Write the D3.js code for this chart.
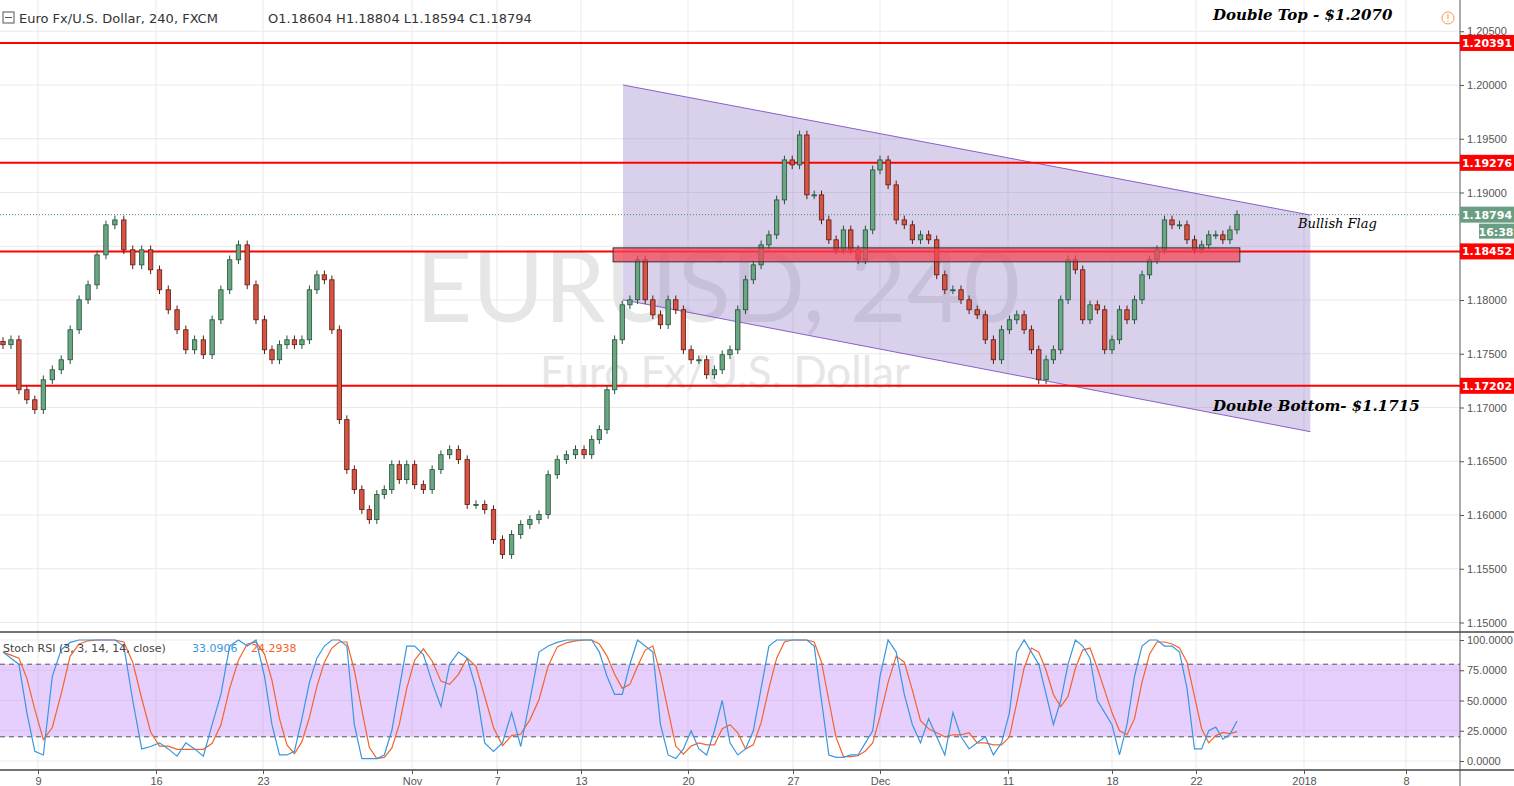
<!DOCTYPE html><html><head><meta charset="utf-8">
<script src="https://cdn.jsdelivr.net/npm/d3@7"></script>
<style>body{margin:0;background:#fff}svg{font-family:"DejaVu Sans",sans-serif}</style></head><body>
<svg id="c" width="1514" height="786"></svg>
<script>
const closes=[1.17584,1.1763,1.17165,1.17072,1.1698,1.17258,1.17351,1.17444,1.17723,1.18002,1.18141,1.1842,1.18699,1.18745,1.18467,1.18327,1.18467,1.18281,1.18095,1.17909,1.17723,1.17537,1.1763,1.17491,1.17816,1.18095,1.18374,1.18513,1.18141,1.17816,1.17537,1.17444,1.17584,1.1763,1.17584,1.1763,1.18095,1.18234,1.18188,1.17723,1.16887,1.16422,1.16236,1.1605,1.15957,1.1619,1.16236,1.16468,1.16329,1.16468,1.16282,1.16236,1.16422,1.16561,1.16608,1.16515,1.16097,1.16097,1.1605,1.15771,1.15632,1.15818,1.15911,1.15957,1.16004,1.16375,1.16515,1.16561,1.16608,1.16561,1.16701,1.16794,1.17165,1.1763,1.17955,1.18002,1.18374,1.18002,1.17862,1.1777,1.18002,1.17909,1.17537,1.17444,1.17444,1.17305,1.17351,1.17491,1.17537,1.17909,1.18188,1.18327,1.18513,1.18606,1.18931,1.19303,1.19257,1.19535,1.18978,1.18978,1.18745,1.1856,1.18467,1.18652,1.18467,1.18374,1.18652,1.1921,1.19303,1.19071,1.18745,1.18699,1.1856,1.18606,1.1856,1.18234,1.18095,1.18095,1.18002,1.17909,1.17862,1.1763,1.17444,1.17723,1.17816,1.17862,1.17723,1.17537,1.17258,1.17444,1.17537,1.18002,1.18374,1.18281,1.17816,1.17955,1.17909,1.17537,1.1763,1.17909,1.17816,1.18002,1.18234,1.18374,1.18467,1.18745,1.18699,1.18699,1.1856,1.18467,1.18513,1.18606,1.18606,1.1856,1.18652,1.18794];
const stochK=[90,85,80,40,8,5,70,92,98,100,100,100,100,100,95,50,10,12,15,10,4,15,10,4,30,55,95,100,95,100,70,30,5,5,8,35,65,85,95,100,100,95,30,2,2,2,5,25,60,95,95,88,65,45,80,90,85,60,15,8,15,40,12,50,90,95,98,100,100,100,100,90,70,55,55,80,100,95,90,30,5,2,10,25,10,5,25,50,15,5,10,25,60,95,100,100,100,100,100,95,50,5,3,3,5,5,15,25,70,100,90,55,30,15,35,20,5,40,20,10,15,20,5,15,40,90,100,90,80,55,30,50,80,100,95,85,50,40,30,5,30,70,95,100,100,95,95,90,60,10,10,25,28,18,22,33];
const xTickLabels=["9","16","23","Nov","7","13","20","27","Dec","11","18","22","2018","8"];
const xTickIdx=[4.4,17.6,29.8,49.7,59.4,68.6,82.6,96.1,108,123.8,138,149.2,164.5,178.9];
const priceTicks=[1.15,1.155,1.16,1.165,1.17,1.175,1.18,1.19,1.195,1.2,1.205];
const levels=[1.20391,1.19276,1.18452,1.17202];
const lastPrice=1.18794;
const channelTop=[[74.1,1.2],[165.4,1.1879]];
const channelBot=[[74.1,1.18002],[165.4,1.16775]];
const zone={i0:72.8,i1:155.4,p0:1.18485,p1:1.18355};
const stochTicks=[100,75,50,25,0];

const svg=d3.select("#c");
const W=1460;
// piecewise time scale: candle index -> pixel, anchored on the date ticks
const x=d3.scaleLinear().domain([0,...xTickIdx.slice(0,12),closes.length-1,...xTickIdx.slice(12)])
  .range([3,38,156,263,412,497,581,688,793,880,1008,1112,1196,1237,1304,1406]);
const y=d3.scaleLinear().domain([1.2,1.18]).range([85,300]);
const ys=d3.scaleLinear().domain([0,100]).range([761,640]);
const f5=d3.format(".5f");
const g=svg.append("g");
xTickIdx.forEach(i=>g.append("line").attr("x1",x(i)).attr("x2",x(i)).attr("y1",0).attr("y2",770).attr("stroke","#e9e9e9"));
[...priceTicks,1.185].forEach(p=>g.append("line").attr("x1",0).attr("x2",W).attr("y1",y(p)).attr("y2",y(p)).attr("stroke","#e9e9e9"));
stochTicks.forEach(v=>g.append("line").attr("x1",0).attr("x2",W).attr("y1",ys(v)).attr("y2",ys(v)).attr("stroke","#ececec"));
svg.append("text").attr("x",718).attr("y",322).attr("text-anchor","middle").attr("font-size",98).attr("fill","#e6e6e6").attr("font-family","Lato").text("EURUSD, 240");
svg.append("text").attr("x",725).attr("y",388).attr("text-anchor","middle").attr("font-size",44).attr("fill","#e6e6e6").attr("font-family","Lato").text("Euro Fx/U.S. Dollar");
const poly=[channelTop[0],channelTop[1],channelBot[1],channelBot[0]];
svg.append("polygon").attr("points",poly.map(d=>[x(d[0]),y(d[1])].join(",")).join(" ")).attr("fill","rgba(140,115,195,0.33)");
[channelTop,channelBot].forEach(c=>svg.append("line").attr("x1",x(c[0][0])).attr("y1",y(c[0][1])).attr("x2",x(c[1][0])).attr("y2",y(c[1][1])).attr("stroke","#8a5fc6").attr("stroke-width",1));
levels.forEach(p=>svg.append("line").attr("x1",0).attr("x2",W).attr("y1",y(p)).attr("y2",y(p)).attr("stroke","#f00").attr("stroke-width",2));
svg.append("line").attr("x1",0).attr("x2",W).attr("y1",y(lastPrice)).attr("y2",y(lastPrice)).attr("stroke","#4a8f6a").attr("stroke-dasharray","1,2");
const cg=svg.append("g");
closes.forEach((c,i)=>{
 const o=i?closes[i-1]:c+0.0003;
 const up=c>=o;
 const hi=Math.max(o,c)+0.0004, lo=Math.min(o,c)-0.0004;
 cg.append("line").attr("x1",x(i)).attr("x2",x(i)).attr("y1",y(hi)).attr("y2",y(lo)).attr("stroke",up?"#225437":"#5b1a13");
 cg.append("rect").attr("x",x(i)-2.2).attr("width",4.4).attr("y",y(Math.max(o,c))).attr("height",Math.max(1,y(Math.min(o,c))-y(Math.max(o,c)))).attr("fill",up?"#6ba583":"#d75442").attr("stroke",up?"#225437":"#5b1a13").attr("stroke-width",0.8);
});
svg.append("rect").attr("x",x(zone.i0)).attr("y",y(zone.p0)).attr("width",x(zone.i1)-x(zone.i0)).attr("height",y(zone.p1)-y(zone.p0)).attr("fill","rgba(245,70,90,0.75)").attr("stroke","#333").attr("stroke-width",1);
const ann=(t,xx,yy,b)=>svg.append("text").attr("x",xx).attr("y",yy).attr("font-size",b?15:13).attr("font-style","italic").attr("font-weight",b?"bold":"normal").attr("font-family","DejaVu Serif").text(t);
ann("Double Top - $1.2070",1213,20,true);
ann("Bullish  Flag",1298,228,false);
ann("Double Bottom- $1.1715",1213,411,true);
svg.append("circle").attr("cx",1448).attr("cy",18).attr("r",6).attr("fill","none").attr("stroke","#f59a4d");
svg.append("text").attr("x",1448).attr("y",22).attr("text-anchor","middle").attr("font-size",10).attr("fill","#f59a4d").text("!");
svg.append("line").attr("x1",0).attr("x2",1514).attr("y1",632).attr("y2",632).attr("stroke","#444").attr("stroke-width",1.5);
svg.append("rect").attr("x",0).attr("width",W).attr("y",ys(80)).attr("height",ys(20)-ys(80)).attr("fill","rgba(190,130,250,0.38)");
[80,20].forEach(v=>svg.append("line").attr("x1",0).attr("x2",W).attr("y1",ys(v)).attr("y2",ys(v)).attr("stroke","#555").attr("stroke-dasharray","5,4"));
const stochD=stochK.map((v,i)=>d3.mean(stochK.slice(Math.max(0,i-2),i+1)));
const ln=d3.line().x((d,i)=>x(i)).y(d=>ys(d));
svg.append("path").attr("d",ln(stochD)).attr("fill","none").attr("stroke","#f4632a").attr("stroke-width",1.2);
svg.append("path").attr("d",ln(stochK)).attr("fill","none").attr("stroke","#3a96dd").attr("stroke-width",1.2);
svg.append("line").attr("x1",W).attr("x2",W).attr("y1",0).attr("y2",786).attr("stroke","#555");
svg.append("line").attr("x1",0).attr("x2",1514).attr("y1",770).attr("y2",770).attr("stroke","#444").attr("stroke-width",1.5);
const style=a=>{a.select(".domain").remove();a.selectAll("text").attr("font-size",11).attr("fill","#555");a.selectAll("line").attr("stroke","#555")};
svg.append("g").attr("transform",`translate(${W},0)`).call(d3.axisRight(y).tickValues(priceTicks).tickFormat(f5).tickSize(4)).call(style);
svg.append("g").attr("transform",`translate(${W},0)`).call(d3.axisRight(ys).tickValues(stochTicks).tickFormat(d3.format(".4f")).tickSize(4)).call(style);
svg.append("g").attr("transform","translate(0,770)").call(d3.axisBottom(x).tickValues(xTickIdx).tickFormat((d,i)=>xTickLabels[i]).tickSize(4)).call(style);
const tag=(p,col,txt)=>{svg.append("rect").attr("x",W).attr("y",y(p)-8).attr("width",54).attr("height",16).attr("fill",col);
 svg.append("text").attr("x",W+27).attr("y",y(p)+4).attr("text-anchor","middle").attr("font-size",11).attr("font-weight","bold").attr("fill","#fff").text(txt);};
levels.forEach(p=>tag(p,"#f00",f5(p)));
tag(lastPrice,"#6a9e82",f5(lastPrice));
svg.append("rect").attr("x",W+19).attr("y",y(lastPrice)+9).attr("width",35).attr("height",15).attr("fill","#6a9e82");
svg.append("text").attr("x",W+36).attr("y",y(lastPrice)+21).attr("text-anchor","middle").attr("font-size",11).attr("font-weight","bold").attr("fill","#fff").text("16:38");
svg.append("rect").attr("x",3).attr("y",12).attr("width",11).attr("height",11).attr("fill","none").attr("stroke","#555");
svg.append("line").attr("x1",5).attr("x2",12).attr("y1",17.5).attr("y2",17.5).attr("stroke","#555");
svg.append("text").attr("x",19).attr("y",23).attr("font-size",13).attr("fill","#333").text("Euro Fx/U.S. Dollar, 240, FXCM");
svg.append("text").attr("x",268).attr("y",23).attr("font-size",13).attr("fill","#333").text("O1.18604  H1.18804  L1.18594  C1.18794");
svg.append("text").attr("x",3).attr("y",652).attr("font-size",11).attr("fill","#444").text("Stoch RSI (3, 3, 14, 14, close)");
svg.append("text").attr("x",192).attr("y",652).attr("font-size",11).attr("fill","#3a96dd").text("33.0906");
svg.append("text").attr("x",251).attr("y",652).attr("font-size",11).attr("fill","#f4632a").text("24.2938");
</script></body></html>
